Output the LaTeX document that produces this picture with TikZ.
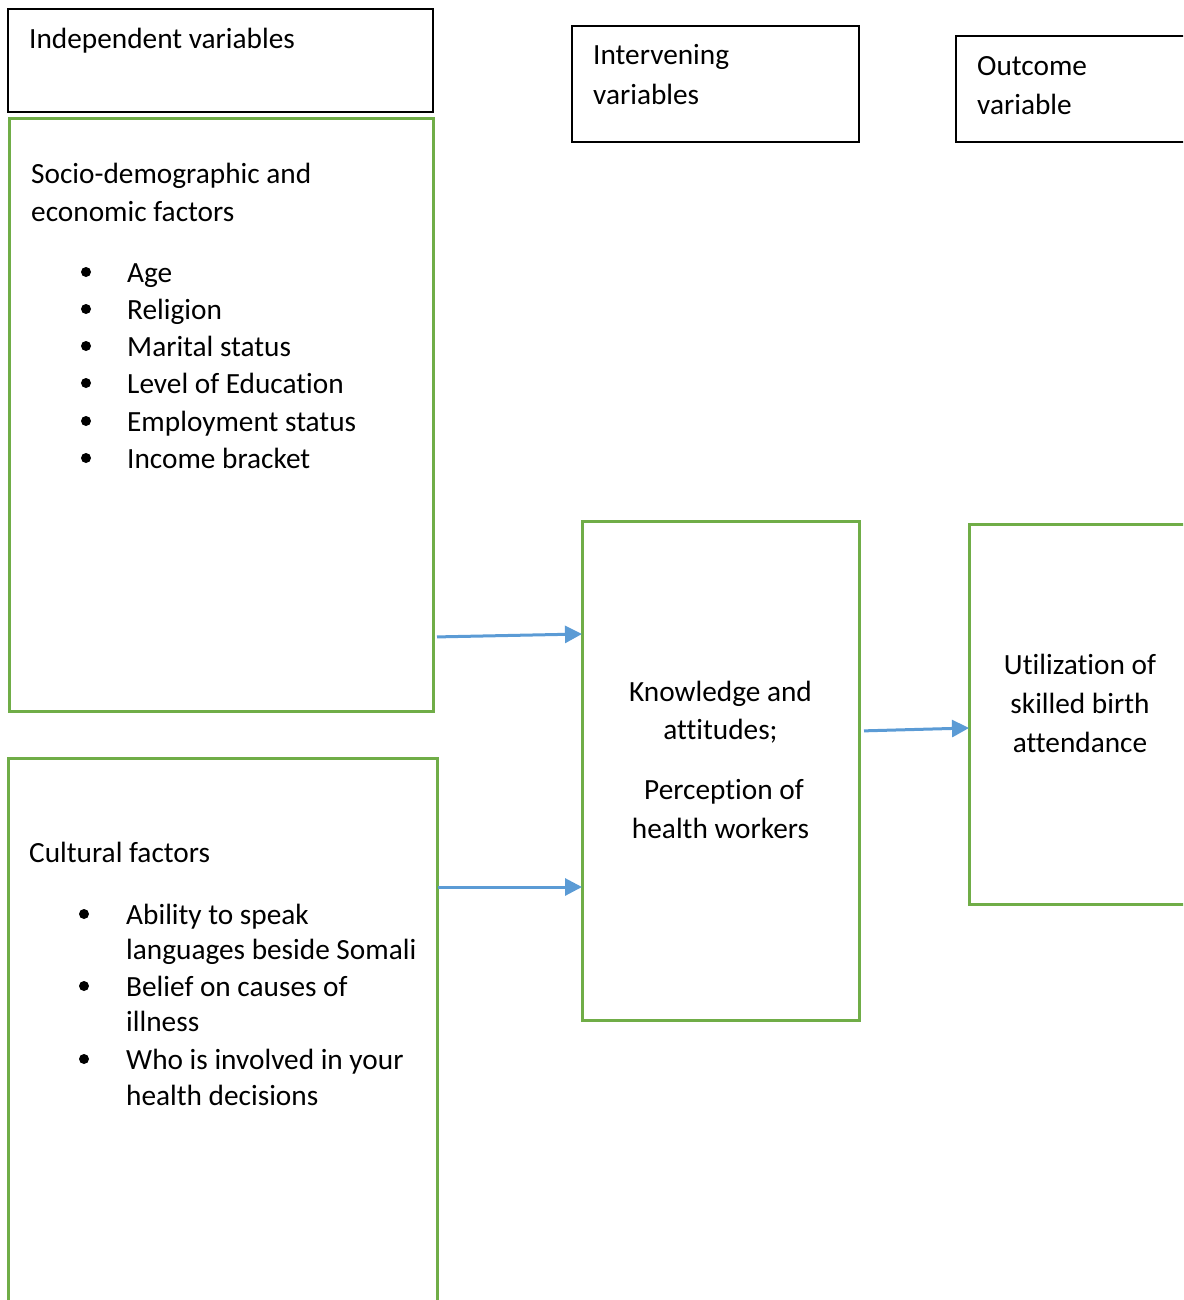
\documentclass[tikz,border=0pt]{standalone}
\usepackage{fontspec}
\setmainfont{Carlito}[Ligatures=NoCommon]
\usetikzlibrary{arrows.meta,positioning}
\definecolor{boxgreen}{HTML}{70AD47}
\definecolor{arrowblue}{HTML}{5B9BD5}
\tikzset{
  hdrbox/.style={draw=black,line width=1.4pt,anchor=north west,inner sep=0pt,outer sep=0pt},
  grnbox/.style={draw=boxgreen,line width=3pt,anchor=north west,inner sep=0pt,outer sep=0pt},
  txt/.style={anchor=base west,inner sep=0pt,font=\fontsize{29.3}{37.3}\selectfont},
  ctxt/.style={txt,anchor=base},
  bul/.style={circle,fill=black,inner sep=0pt,minimum size=10pt},
  arr/.style={arrowblue,line width=3pt,-{Triangle[length=17pt,width=17pt]}}
}

\begin{document}
\begin{tikzpicture}[x=1pt,y=-1pt]
  \useasboundingbox (0,0) rectangle (1183,1300);
  \clip (0,0) rectangle (1183,1300);
  % Headers
  \node[hdrbox,minimum width=425pt,minimum height=103pt] (indephdr) at (8,9) {};
  \node[txt] (indeptxt) at (29,49) {Independent variables};
  \node[hdrbox,minimum width=287pt,minimum height=116pt] (interhdr) at (572,26) {};
  \node[txt] (intertxta) at (593,65) {Intervening};
  \node[txt] (intertxtb) at (593,105) {variables};
  \node[hdrbox,minimum width=240pt,minimum height=106pt] (outhdr) at (956,36) {};
  \node[txt] (outtxta) at (977,76) {Outcome};
  \node[txt] (outtxtb) at (977,115) {variable};
  % Socio-demographic
  \node[grnbox,minimum width=424pt,minimum height=592pt] (socio) at (9,119) {};
  \node[txt] (sociotxta) at (31,183) {Socio-demographic and};
  \node[txt] (sociotxtb) at (31,221) {economic factors};
  \node[bul] (bula) at (86,272) {}; \node[txt] (age)    at (127,282) {Age};
  \node[bul] (bulb) at (86,309) {}; \node[txt] (relig)  at (127,319) {Religion};
  \node[bul] (bulc) at (86,346) {}; \node[txt] (marit)  at (127,356) {Marital status};
  \node[bul] (buld) at (86,383) {}; \node[txt] (educ)   at (127,393) {Level of Education};
  \node[bul] (bule) at (86,421) {}; \node[txt] (employ) at (127,431) {Employment status};
  \node[bul] (bulf) at (86,458) {}; \node[txt] (income) at (127,468) {Income bracket};
  % Cultural
  \node[grnbox,minimum width=429pt,minimum height=600pt] (cult) at (8,758) {};
  \node[txt] (culttxt) at (29,862) {Cultural factors};
  \node[bul] (bulg) at (84,914) {};  \node[txt] (abila) at (126,924) {Ability to speak};
                                     \node[txt] (abilb) at (126,959) {languages beside Somali};
  \node[bul] (bulh) at (84,986) {};  \node[txt] (belia) at (126,996) {Belief on causes of};
                                     \node[txt] (belib) at (126,1031) {illness};
  \node[bul] (buli) at (84,1059) {}; \node[txt] (whoa)  at (126,1069) {Who is involved in your};
                                     \node[txt] (whob)  at (126,1105) {health decisions};
  % Intervening
  \node[grnbox,minimum width=277pt,minimum height=499pt] (know) at (582,521) {};
  \node[ctxt] (knowa) at (720.5,701) {Knowledge and};
  \node[ctxt] (knowb) at (720.5,739) {attitudes;};
  \node[ctxt] (knowc) at (724,799) {Perception of};
  \node[ctxt] (knowd) at (720.5,838) {health workers};
  % Outcome
  \node[grnbox,minimum width=222pt,minimum height=380pt] (util) at (969,524) {};
  \node[ctxt] (utila) at (1080,674) {Utilization of};
  \node[ctxt] (utilb) at (1080,713) {skilled birth};
  \node[ctxt] (utilc) at (1080,752) {attendance};
  % Arrows
  \draw[arr,shorten <=4pt] (socio.east |- 0,637) -- (know.west |- 0,634);
  \draw[arr,shorten <=1pt] (cult.east |- 0,887) -- (know.west |- 0,887);
  \draw[arr,shorten <=5pt] (know.east |- 0,731) -- (util.west |- 0,728);
\end{tikzpicture}
\end{document}
